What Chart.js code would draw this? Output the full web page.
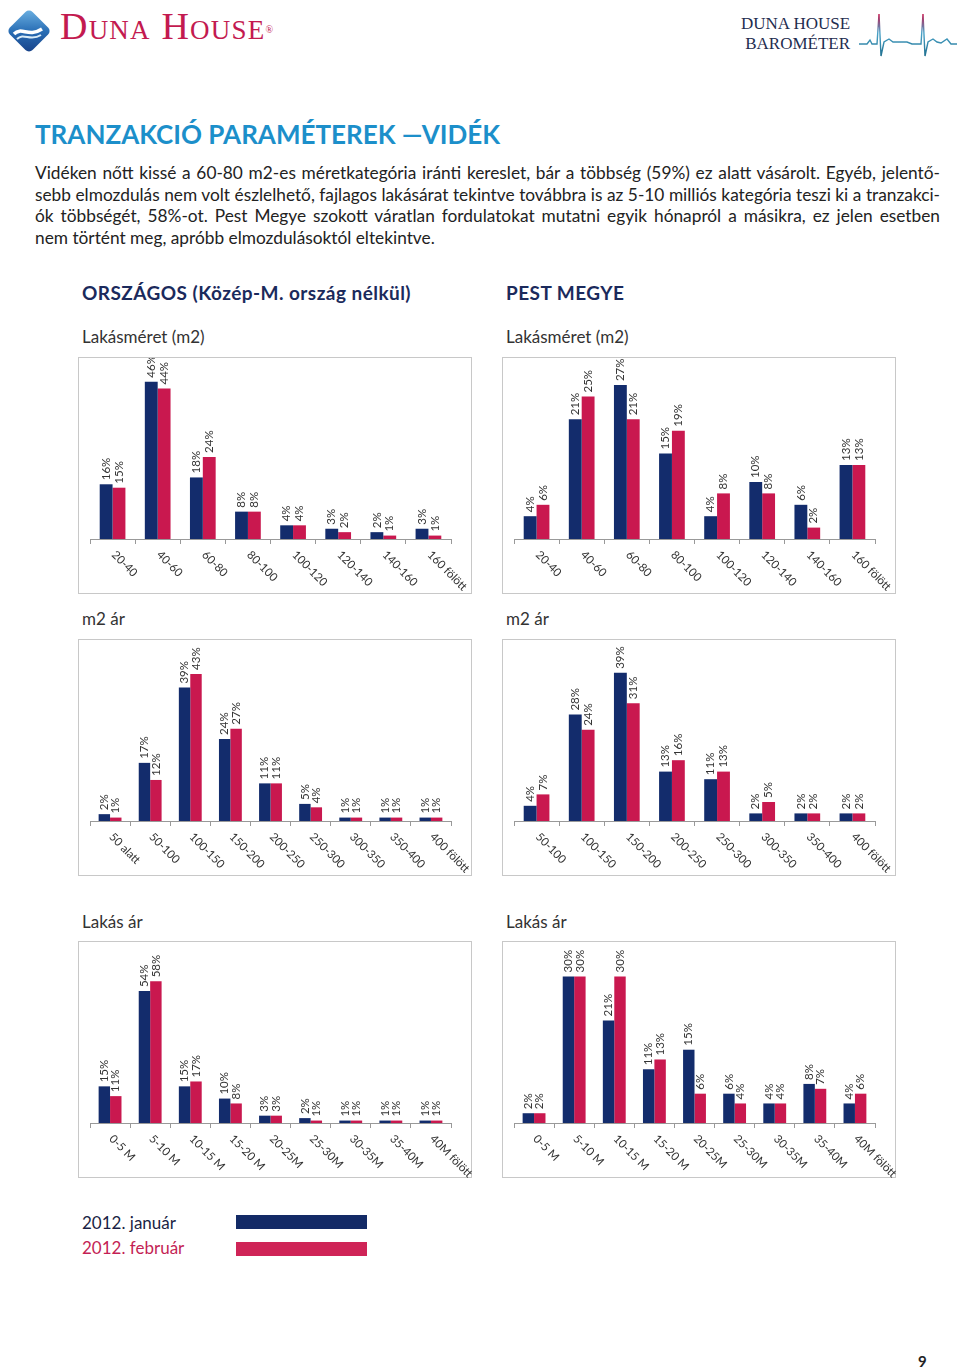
<!DOCTYPE html>
<html>
<head>
<meta charset="utf-8">
<script src="https://cdn.jsdelivr.net/npm/chart.js@4.4.1/dist/chart.umd.min.js"></script>
<style>
  body { margin: 0; background: #fff; width: 960px; height: 1371px; position: relative; font-family: Lato, "Open Sans", sans-serif; overflow: hidden; }
  .abs { position: absolute; white-space: nowrap; }
  .brand { left: 60px; top: 5px; font-family: "Liberation Serif", serif; font-variant: small-caps; color: #c31a50; font-size: 38px; line-height: 42px; letter-spacing: 1.2px; }
  .brand sup { font-size: 10px; vertical-align: top; position: relative; top: 4px; }
  .baro { left: 741px; top: 14px; font-family: "Liberation Serif", serif; color: #1f2d4f; font-size: 17px; line-height: 20px; text-align: right; }
  .title { left: 35px; top: 119px; color: #1c8fca; font-weight: bold; font-size: 26px; line-height: 30px; }
  .para { left: 35px; top: 162px; width: 905px; font-size: 17.3px; line-height: 21.7px; color: #222; }
  .para div { text-align: justify; text-align-last: justify; white-space: nowrap; }
  .para div.last { text-align-last: left; }
  .sec { font-family: Lato, sans-serif; font-weight: bold; color: #1b2a5c; font-size: 19px; line-height: 22px; top: 282px; letter-spacing: 0.45px; }
  .sub { color: #333; font-size: 17px; line-height: 22px; }
  .box { position: absolute; width: 394px; height: 237px; box-sizing: border-box; border: 1.5px solid #c8c8c8; }
  .box canvas { position: absolute; left: 0; top: 0; }
  .leg { left: 82px; font-size: 17px; line-height: 22px; }
  .legbar { position: absolute; left: 236px; width: 131px; height: 14px; }
</style>
</head>
<body>

<svg class="abs" style="left:2px;top:4px" width="54" height="54" viewBox="0 0 54 54">
  <defs>
    <linearGradient id="lg" x1="0" y1="0" x2="1" y2="1">
      <stop offset="0" stop-color="#6fb4e4"/>
      <stop offset="0.5" stop-color="#2a6fb6"/>
      <stop offset="1" stop-color="#163f86"/>
    </linearGradient>
  </defs>
  <rect x="11" y="11" width="32" height="32" rx="5" transform="rotate(45 27 27)" fill="url(#lg)"/>
  <path d="M12 30 C20 22, 26 34, 40 25" stroke="#fff" stroke-width="3.5" fill="none"/>
  <path d="M15 35 C22 28, 28 38, 39 31" stroke="#d9ecf8" stroke-width="2" fill="none"/>
</svg>
<div class="abs brand">Duna House<sup>®</sup></div>

<div class="abs baro">DUNA HOUSE<br>BAROMÉTER</div>
<svg class="abs" style="left:857px;top:12px" width="102" height="46" viewBox="0 0 102 46">
  <defs>
    <linearGradient id="hb" x1="0" y1="0" x2="0" y2="1">
      <stop offset="0" stop-color="#c31a50"/>
      <stop offset="0.45" stop-color="#4aa3c8"/>
      <stop offset="1" stop-color="#1f6f8f"/>
    </linearGradient>
  </defs>
  <polyline points="2,32 10,32 13,28 15,32 20,32 22,2 24,44 27,30 32,27 36,30 50,30 55,32 64,32 66,2 68,44 71,30 76,27 80,30 84,31 90,27 94,32 100,32"
            stroke="url(#hb)" stroke-width="1.4" fill="none"/>
</svg>

<div class="abs title">TRANZAKCIÓ PARAMÉTEREK —VIDÉK</div>

<div class="abs para">
  <div>Vidéken nőtt kissé a 60-80 m2-es méretkategória iránti kereslet, bár a többség (59%) ez alatt vásárolt. Egyéb, jelentő-</div>
  <div>sebb elmozdulás nem volt észlelhető, fajlagos lakásárat tekintve továbbra is az 5-10 milliós kategória teszi ki a tranzakci-</div>
  <div>ók többségét, 58%-ot. Pest Megye szokott váratlan fordulatokat mutatni egyik hónapról a másikra, ez jelen esetben</div>
  <div class="last">nem történt meg, apróbb elmozdulásoktól eltekintve.</div>
</div>

<div class="abs sec" style="left:82px">ORSZÁGOS (Közép-M. ország nélkül)</div>
<div class="abs sec" style="left:506px">PEST MEGYE</div>

<div class="abs sub" style="left:82px;top:326px">Lakásméret (m2)</div>
<div class="abs sub" style="left:506px;top:326px">Lakásméret (m2)</div>
<div class="box" style="left:78px;top:357px"><canvas id="c1" width="394" height="237"></canvas></div>
<div class="box" style="left:502px;top:357px"><canvas id="c2" width="394" height="237"></canvas></div>

<div class="abs sub" style="left:82px;top:608px">m2 ár</div>
<div class="abs sub" style="left:506px;top:608px">m2 ár</div>
<div class="box" style="left:78px;top:639px"><canvas id="c3" width="394" height="237"></canvas></div>
<div class="box" style="left:502px;top:639px"><canvas id="c4" width="394" height="237"></canvas></div>

<div class="abs sub" style="left:82px;top:911px">Lakás ár</div>
<div class="abs sub" style="left:506px;top:911px">Lakás ár</div>
<div class="box" style="left:78px;top:941px"><canvas id="c5" width="394" height="237"></canvas></div>
<div class="box" style="left:502px;top:941px"><canvas id="c6" width="394" height="237"></canvas></div>

<div class="abs leg" style="top:1212px;color:#1b1f45">2012. január</div>
<div class="legbar" style="top:1215px;background:#132a66"></div>
<div class="abs leg" style="top:1237px;color:#c41f55">2012. február</div>
<div class="legbar" style="top:1242px;background:#cf2457"></div>

<div class="abs" style="left:918px;top:1352px;font-weight:bold;font-size:15px;color:#222">9</div>

<script>
// category labels
const sizeLabels = ['20-40', '40-60', '60-80', '80-100', '100-120', '120-140', '140-160', '160 fölött'];
const m2LabelsOrszagos = ['50 alatt', '50-100', '100-150', '150-200', '200-250', '250-300', '300-350', '350-400', '400 fölött'];
const m2LabelsPest = ['50-100', '100-150', '150-200', '200-250', '250-300', '300-350', '350-400', '400 fölött'];
const priceLabels = ['0-5 M', '5-10 M', '10-15 M', '15-20 M', '20-25M', '25-30M', '30-35M', '35-40M', '40M fölött'];

// Országos (Közép-M. ország nélkül), percent
const sizeJanOrszagos = [16, 46, 18, 8, 4, 3, 2, 3];
const sizeFebOrszagos = [15, 44, 24, 8, 4, 2, 1, 1];
const m2JanOrszagos = [2, 17, 39, 24, 11, 5, 1, 1, 1];
const m2FebOrszagos = [1, 12, 43, 27, 11, 4, 1, 1, 1];
const priceJanOrszagos = [15, 54, 15, 10, 3, 2, 1, 1, 1];
const priceFebOrszagos = [11, 58, 17, 8, 3, 1, 1, 1, 1];

// Pest megye, percent
const sizeJanPest = [4, 21, 27, 15, 4, 10, 6, 13];
const sizeFebPest = [6, 25, 21, 19, 8, 8, 2, 13];
const m2JanPest = [4, 28, 39, 13, 11, 2, 2, 2];
const m2FebPest = [7, 24, 31, 16, 13, 5, 2, 2];
const priceJanPest = [2, 30, 21, 11, 15, 6, 4, 8, 4];
const priceFebPest = [2, 30, 30, 13, 6, 4, 4, 7, 6];

const seriesNames = ['2012. január', '2012. február'];
const janColor = '#132c6c';
const febColor = '#c9184f';
const labelFont = '11.5px Lato, sans-serif';

// value labels, rotated, on top of each bar
const barValueLabels = {
    id: 'barValueLabels',
    afterDatasetsDraw(chart) {
        const ctx = chart.ctx;
        ctx.save();
        ctx.font = labelFont;
        ctx.fillStyle = '#333';
        ctx.textAlign = 'left';
        ctx.textBaseline = 'middle';
        chart.data.datasets.forEach((ds, di) => {
            chart.getDatasetMeta(di).data.forEach((bar, i) => {
                ctx.save();
                ctx.translate(bar.x, bar.y - 4);
                ctx.rotate(-Math.PI / 2);
                ctx.fillText(ds.data[i] + '%', 0, 0);
                ctx.restore();
            });
        });
        ctx.restore();
    }
};

// category labels slanted downwards to the right
const slantedTicks = {
    id: 'slantedTicks',
    afterDraw(chart) {
        const ctx = chart.ctx;
        const x = chart.scales.x;
        ctx.save();
        ctx.font = labelFont;
        ctx.fillStyle = '#333';
        ctx.textAlign = 'left';
        ctx.textBaseline = 'middle';
        chart.data.labels.forEach((lab, i) => {
            ctx.save();
            ctx.translate(x.getPixelForTick(i) + 1, x.top + 14);
            ctx.rotate(Math.PI / 4);
            ctx.fillText(lab, 0, 0);
            ctx.restore();
        });
        ctx.restore();
    }
};

function makeChart(id, labels, jan, feb, yMax) {
    new Chart(document.getElementById(id), {
        type: 'bar',
        data: {
            labels: labels,
            datasets: [
                { label: seriesNames[0], data: jan, backgroundColor: janColor },
                { label: seriesNames[1], data: feb, backgroundColor: febColor }
            ]
        },
        options: {
            responsive: false,
            animation: false,
            events: [],
            layout: { padding: { left: 11, right: 22, top: 10, bottom: 51 } },
            datasets: { bar: { categoryPercentage: 0.57, barPercentage: 1.0 } },
            plugins: { legend: { display: false }, tooltip: { enabled: false } },
            scales: {
                x: {
                    ticks: { display: false },
                    grid: { drawOnChartArea: false, drawTicks: true, tickLength: 5, color: '#999' },
                    border: { display: true, color: '#999', width: 1 }
                },
                y: { display: false, min: 0, max: yMax }
            }
        },
        plugins: [barValueLabels, slantedTicks]
    });
}

makeChart('c1', sizeLabels, sizeJanOrszagos, sizeFebOrszagos, 50);
makeChart('c2', sizeLabels, sizeJanPest, sizeFebPest, 30);
makeChart('c3', m2LabelsOrszagos, m2JanOrszagos, m2FebOrszagos, 50);
makeChart('c4', m2LabelsPest, m2JanPest, m2FebPest, 45);
makeChart('c5', priceLabels, priceJanOrszagos, priceFebOrszagos, 70);
makeChart('c6', priceLabels, priceJanPest, priceFebPest, 35);
</script>
</body>
</html>
